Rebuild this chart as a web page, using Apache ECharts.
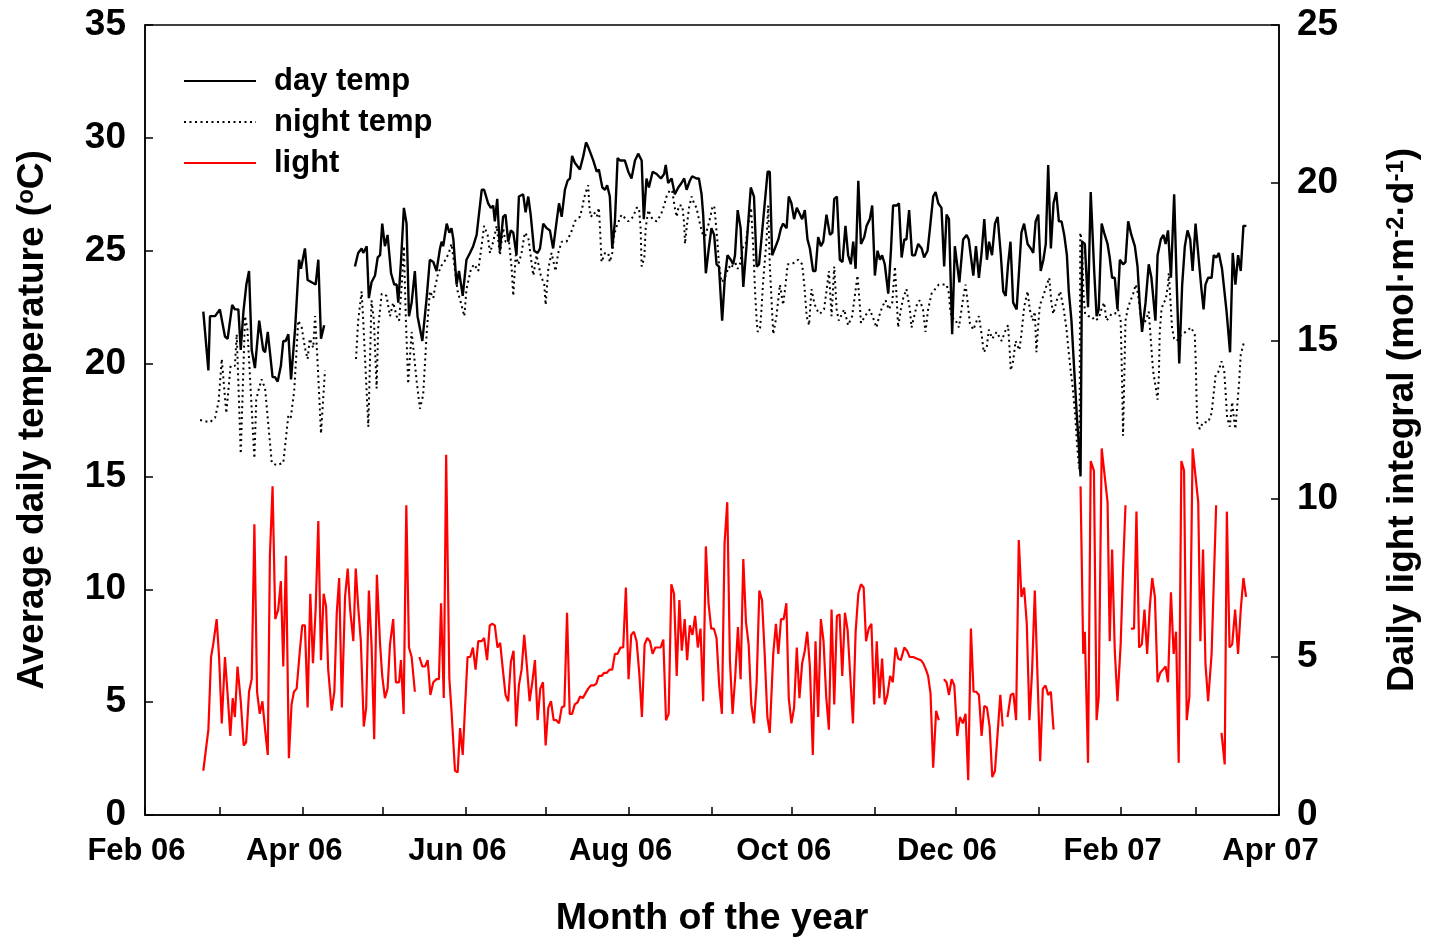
<!DOCTYPE html>
<html>
<head>
<meta charset="utf-8">
<script src="https://cdn.jsdelivr.net/npm/echarts@6/dist/echarts.min.js"></script>
<style>
  html, body { margin: 0; padding: 0; background: #fff; }
  #chart { width: 1429px; height: 943px; }
</style>
</head>
<body>
<div id="chart"></div>
<script>
// Days are counted from 1 Feb 2006.
const monthStartDays = [0, 28, 59, 89, 120, 150, 181, 212, 242, 273, 303, 334, 365, 393, 424];
const monthLabelDays = [0, 59, 120, 181, 242, 303, 365, 424];
const monthLabelTexts = ['Feb 06', 'Apr 06', 'Jun 06', 'Aug 06', 'Oct 06', 'Dec 06', 'Feb 07', 'Apr 07'];
const tempTicks = [0, 5, 10, 15, 20, 25, 30, 35];
const lightTicks = [0, 5, 10, 15, 20, 25];

// Average day temperature (°C): [day, value]; null breaks the line.
const dayTemp = [
  [21.8,22.3],[23.7,19.7],[24.3,22.1],[26.2,22.1],[28.0,22.4],[29.9,21.2],[30.9,21.1],[32.6,22.6],[33.6,22.4],[34.9,22.4],
  [35.8,20.6],[36.8,22.3],[37.9,23.5],[38.9,24.1],[39.9,20.6],[41.1,19.8],[42.7,21.9],[44.2,20.6],[44.9,20.5],[45.9,21.4],
  [47.7,19.4],[48.6,19.4],[49.6,19.2],[50.8,19.9],[51.7,21.0],[52.6,21.0],[53.6,21.3],[54.6,19.3],[56.1,21.5],[57.6,24.6],
  [58.3,24.2],[59.8,25.1],[60.8,23.7],[62.3,23.6],[63.8,23.5],[64.8,24.6],[65.8,21.1],[67.0,21.7],[72,null],
  [78.5,24.3],[79.7,24.9],[81.0,25.1],[81.6,24.9],[82.9,25.2],[83.7,22.9],[84.7,23.6],[86.0,23.9],[87.0,24.7],[87.9,24.8],
  [88.7,26.2],[89.7,25.2],[90.7,25.7],[92.0,24.0],[93.2,23.5],[94.1,23.5],[94.7,22.7],[95.7,24.5],[96.8,26.9],[97.8,26.2],
  [98.7,22.1],[99.7,22.7],[100.9,24.1],[101.9,22.1],[103.7,21.0],[105.3,22.9],[106.5,24.6],[107.8,24.5],[109.0,24.1],[110.3,25.1],
  [110.9,25.4],[111.5,25.2],[112.8,26.2],[113.8,25.8],[114.6,26.0],[115.3,25.5],[116.5,23.5],[117.4,24.1],[118.8,23.0],[120.2,24.6],
  [121.5,24.9],[122.7,25.2],[124.0,25.7],[125.9,27.7],[126.8,27.7],[128.3,27.1],[129.3,26.9],[130.2,27.0],[130.8,26.3],[131.7,27.3],
  [132.7,25.0],[133.9,26.5],[134.8,26.6],[135.8,25.4],[136.8,25.9],[137.7,25.8],[138.9,24.8],[139.8,27.4],[141.4,27.5],[142.3,26.7],
  [143.3,27.4],[144.2,26.6],[145.5,25.0],[146.8,24.9],[147.7,25.1],[148.9,26.2],[150.2,26.0],[151.4,25.9],[152.6,25.1],[153.9,26.3],
  [154.8,27.1],[155.8,26.5],[157.0,27.7],[158.0,28.1],[158.9,28.2],[159.7,29.2],[160.7,28.9],[162.6,28.6],[163.9,29.2],[164.9,29.8],
  [165.7,29.6],[167.6,29.0],[168.9,28.5],[169.7,28.6],[171.0,27.8],[172.0,27.7],[172.8,27.9],[173.8,27.4],[174.7,25.1],[175.7,26.3],
  [176.7,29.1],[177.6,29.0],[179.4,29.0],[180.7,28.5],[181.9,28.2],[183.2,29.0],[184.4,29.3],[185.7,29.0],[186.5,26.4],[187.5,28.2],
  [188.4,27.8],[189.8,28.5],[191.3,28.4],[192.9,28.2],[194.1,28.4],[194.7,28.8],[195.6,28.0],[196.9,28.2],[198.1,27.5],[199.4,27.8],
  [200.6,28.0],[201.6,28.2],[202.5,27.7],[203.7,28.1],[204.6,28.3],[206.2,28.2],[207.1,28.2],[208.1,27.5],[208.7,26.6],[209.7,24.0],
  [210.8,25.1],[211.8,26.0],[212.8,25.7],[213.7,24.4],[214.6,24.3],[215.8,21.9],[216.8,23.8],[217.8,24.8],[219.0,24.6],[219.9,24.4],
  [220.6,24.8],[221.6,26.8],[222.7,26.0],[223.7,23.4],[224.9,25.2],[226.5,27.8],[227.7,27.4],[228.7,24.3],[229.6,24.4],[231.1,26.3],
  [232.8,28.5],[233.6,28.5],[234.5,24.8],[235.5,25.1],[236.8,25.5],[237.8,26.0],[238.6,26.2],[239.9,26.0],[240.7,27.4],[241.7,27.1],
  [242.7,26.4],[243.7,26.9],[244.9,26.6],[245.7,26.4],[246.7,26.8],[247.7,25.5],[248.6,25.1],[249.8,24.1],[250.7,24.1],[251.7,25.6],
  [252.7,25.2],[253.6,25.4],[254.8,26.6],[256.1,25.7],[257.0,25.8],[257.7,27.3],[258.7,27.4],[259.8,24.6],[260.8,24.5],[261.9,26.1],
  [262.9,24.8],[263.9,24.4],[264.8,25.4],[265.7,24.2],[266.7,28.1],[267.7,25.3],[268.9,25.6],[269.8,26.1],[271.0,26.4],[271.9,27.0],
  [272.9,23.9],[273.9,25.0],[274.8,24.6],[275.6,24.8],[276.6,24.4],[277.9,23.1],[278.9,25.0],[279.7,27.0],[281.0,27.0],[281.9,27.1],
  [282.9,24.7],[283.9,25.5],[284.7,25.5],[285.7,26.8],[286.8,24.8],[287.9,24.8],[289.1,25.3],[290.4,25.1],[291.3,24.7],[292.6,25.0],
  [293.5,26.0],[294.7,27.4],[295.6,27.6],[296.6,27.1],[297.8,26.9],[298.8,24.3],[299.7,26.6],[300.6,26.4],[301.8,21.3],[302.8,25.2],
  [304.5,23.6],[305.9,25.5],[307.2,25.7],[308.0,25.5],[309.7,23.9],[310.7,25.2],[311.8,23.8],[312.8,24.9],[313.8,26.4],[314.8,24.6],
  [315.6,25.4],[316.7,24.8],[317.8,26.2],[318.8,26.5],[320.0,24.8],[320.9,23.2],[321.8,23.0],[322.7,24.4],[323.6,25.4],[324.6,22.7],
  [325.9,22.4],[327.7,25.8],[328.7,26.2],[330.0,25.3],[331.2,25.1],[332.1,24.9],[333.0,26.3],[334.0,26.6],[334.9,24.1],[335.9,24.6],
  [336.8,25.3],[337.7,28.8],[338.7,25.1],[339.7,27.1],[340.7,27.6],[341.7,26.3],[342.7,26.3],[343.7,25.7],[344.7,24.8],[345.4,23.2],
  [346.4,21.9],[347.4,19.8],[348.4,17.7],[349.2,16.3],[349.8,15.0],[350.4,25.4],[351.4,25.3],[352.6,22.5],[353.6,27.6],[354.9,24.1],
  [355.8,22.1],[356.6,22.4],[357.7,26.2],[358.6,25.8],[359.9,25.3],[360.7,24.7],[361.6,23.8],[362.6,23.8],[363.6,22.4],[364.5,24.6],
  [365.7,24.4],[366.6,24.5],[367.6,26.3],[368.8,25.7],[370.1,25.2],[371.1,24.3],[371.9,22.7],[372.8,21.4],[374.1,22.7],[375.3,24.4],
  [376.3,23.8],[377.8,21.9],[378.6,24.8],[379.8,25.5],[380.8,25.7],[381.6,25.3],[382.5,25.9],[383.6,23.8],[384.8,27.5],[385.7,23.8],
  [386.7,20.0],[387.8,23.5],[388.8,25.2],[389.8,25.9],[390.8,25.5],[391.7,24.1],[392.8,26.2],[394.0,24.6],[395.0,23.3],[395.8,22.4],
  [396.5,23.5],[397.5,23.8],[398.8,23.8],[399.6,24.8],[400.6,24.7],[401.5,24.9],[402.7,24.2],[404.4,22.3],[405.7,20.5],[406.7,24.9],
  [407.7,23.5],[408.7,24.8],[409.7,24.1],[410.7,26.1],[411.8,26.1]
];

// Average night temperature (°C): [day, value]; null breaks the line.
const nightTemp = [
  [20.6,17.5],[24.3,17.4],[26.2,17.6],[27.5,18.3],[28.7,20.2],[30.4,17.8],[32.0,19.9],[33.6,19.9],[34.3,21.3],[35.8,16.0],
  [37.4,22.1],[38.3,21.5],[40.9,15.8],[41.6,18.4],[42.4,18.8],[43.6,19.3],[44.9,18.9],[47.4,15.6],[49.2,15.5],[51.7,15.6],
  [53.6,17.7],[54.5,17.6],[55.8,18.8],[57.3,21.9],[58.6,21.6],[59.8,20.7],[60.8,20.2],[61.6,21.1],[62.9,20.7],[63.6,22.1],
  [64.6,19.9],[65.8,16.9],[67.3,19.7],[72,null],
  [78.9,20.2],[79.7,21.9],[81.0,23.2],[81.6,21.9],[83.5,17.2],[84.7,22.8],[85.6,21.9],[86.6,18.9],[87.2,21.6],[88.5,23.1],
  [90.3,23.0],[91.6,22.1],[92.8,22.7],[94.1,22.1],[95.0,21.9],[96.0,23.5],[96.8,25.2],[97.5,22.1],[98.4,19.1],[99.7,21.4],
  [101.6,19.2],[102.8,18.0],[104.0,18.6],[105.3,21.3],[106.5,23.2],[107.8,22.9],[108.3,23.3],[109.6,24.0],[111.1,24.4],[112.4,24.6],
  [113.6,24.9],[114.6,25.3],[115.5,24.5],[116.9,23.2],[118.1,22.7],[119.4,22.1],[120.2,23.3],[121.9,24.2],[123.1,24.4],[124.6,24.1],
  [125.6,25.0],[126.8,26.1],[128.1,25.7],[129.0,24.9],[130.2,25.4],[131.5,26.1],[132.7,24.8],[133.9,26.0],[134.8,25.4],[136.1,25.4],
  [137.1,24.2],[137.7,23.0],[138.6,24.8],[139.6,24.4],[140.8,24.9],[142.0,25.8],[143.3,25.6],[144.6,24.4],[145.2,23.9],[146.4,24.8],
  [148.0,23.9],[149.3,23.5],[149.8,22.6],[150.8,24.2],[152.0,24.9],[153.5,24.1],[154.5,24.9],[155.8,25.4],[157.6,25.4],[159.3,25.8],
  [160.7,26.3],[162.6,26.5],[163.5,26.9],[164.1,27.3],[165.1,27.7],[165.7,27.9],[166.1,27.0],[166.7,26.5],[167.9,26.7],[168.9,26.5],
  [169.7,26.9],[170.2,25.8],[170.7,24.5],[172.0,24.9],[173.2,24.9],[173.8,24.5],[174.7,24.9],[175.4,25.7],[176.4,26.1],[178.2,26.6],
  [180.7,26.3],[182.5,26.5],[183.8,26.9],[184.7,26.9],[185.3,26.0],[185.7,24.3],[186.7,24.7],[187.2,26.0],[188.2,26.8],[189.7,26.4],
  [191.3,26.3],[192.9,26.6],[194.1,27.0],[195.0,27.4],[196.3,27.7],[197.2,27.6],[198.1,26.9],[198.8,26.5],[199.6,27.0],[200.9,27.0],
  [201.6,26.2],[201.9,25.3],[202.5,26.0],[203.4,26.9],[204.4,27.4],[205.3,27.1],[206.2,26.9],[207.1,26.4],[207.9,26.0],[209.1,25.5],
  [210.3,26.0],[211.2,26.4],[212.1,26.9],[212.8,27.0],[213.3,26.4],[214.1,25.3],[214.6,24.4],[215.6,23.6],[216.8,23.8],[218.3,24.3],
  [219.3,24.2],[220.3,24.6],[221.6,24.2],[222.4,24.4],[223.7,25.2],[224.6,25.3],[225.6,26.2],[226.6,26.9],[227.4,25.2],[228.1,23.2],
  [228.7,21.9],[229.1,21.4],[230.0,21.6],[230.5,22.4],[231.1,23.6],[232.4,25.5],[233.0,27.0],[233.6,24.4],[234.3,22.7],[234.9,21.3],
  [236.1,22.1],[237.4,23.5],[238.6,22.6],[239.5,23.5],[240.3,24.4],[241.7,24.4],[243.2,24.5],[244.2,24.6],[245.7,24.4],[246.5,23.5],
  [247.4,22.1],[248.3,21.7],[249.2,23.3],[250.2,22.7],[251.1,22.4],[252.3,22.2],[253.9,22.4],[254.9,23.3],[255.7,24.1],[256.7,22.1],
  [257.7,24.3],[258.6,22.4],[259.4,21.9],[261.4,22.4],[262.9,21.7],[264.4,22.1],[265.4,23.0],[266.4,23.9],[267.2,22.7],[267.7,21.8],
  [269.2,22.1],[271.0,22.4],[272.3,22.0],[273.5,21.6],[274.5,22.1],[275.6,22.5],[276.9,22.8],[278.1,22.4],[279.4,22.7],[280.4,24.3],
  [281.0,23.0],[281.6,21.6],[282.6,22.4],[283.5,22.9],[284.7,23.3],[286.0,22.4],[286.6,21.6],[287.6,22.1],[288.8,22.7],[289.7,22.8],
  [290.9,22.4],[291.8,21.4],[292.8,22.4],[294.1,23.1],[296.8,23.5],[299.7,23.5],[300.6,23.1],[301.1,22.3],[301.8,22.0],[302.8,22.0],
  [304.3,21.6],[305.3,22.4],[305.9,22.9],[306.8,23.5],[307.6,22.7],[308.4,21.8],[309.7,21.5],[311.0,21.9],[311.8,22.1],[312.8,21.3],
  [313.6,20.5],[314.7,20.7],[315.5,21.5],[316.8,21.1],[318.4,21.4],[320.3,21.0],[321.5,21.4],[322.7,21.7],[323.4,20.4],[323.7,19.7],
  [324.6,20.1],[325.5,21.0],[326.9,20.6],[327.7,21.3],[328.7,22.5],[330.0,23.2],[330.8,22.4],[331.9,21.9],[332.7,22.3],[333.3,20.5],
  [333.9,21.6],[334.6,22.6],[335.9,23.0],[337.2,23.5],[338.1,23.8],[338.9,22.7],[339.6,22.2],[340.9,22.8],[342.2,23.2],[343.5,22.4],
  [344.5,21.6],[345.2,20.7],[346.0,19.8],[346.9,18.9],[347.8,17.7],[348.5,16.4],[349.0,15.7],[349.4,15.3],[349.7,25.8],[350.3,25.4],
  [350.9,23.1],[351.5,22.2],[352.7,22.1],[354.0,22.1],[355.1,21.9],[356.6,22.0],[357.6,22.4],[358.6,22.7],[359.5,21.9],[361.4,22.2],
  [362.6,22.2],[363.8,22.4],[364.8,21.9],[365.3,19.4],[365.7,16.8],[366.6,21.9],[367.4,22.4],[368.2,22.7],[369.5,23.1],[370.4,23.5],
  [371.1,23.2],[371.7,22.7],[372.3,22.1],[373.2,21.7],[374.5,22.0],[375.3,22.3],[376.9,19.7],[378.1,18.8],[378.6,18.4],[379.1,19.5],
  [379.4,21.4],[380.0,22.3],[380.7,22.7],[381.6,22.8],[382.5,23.5],[382.8,24.0],[383.6,22.4],[384.0,21.6],[384.8,21.1],[385.8,21.0],
  [387.6,21.3],[389.1,21.4],[391.1,21.6],[392.5,21.3],[392.9,20.0],[393.1,18.8],[393.4,17.4],[394.4,17.1],[395.6,17.4],[397.5,17.4],
  [398.8,17.8],[399.6,18.7],[400.3,19.5],[401.2,19.6],[402.5,20.1],[403.5,19.7],[404.0,18.8],[404.6,17.6],[405.6,17.2],[406.5,18.3],
  [407.2,17.5],[407.7,17.1],[408.5,18.3],[409.1,19.2],[409.7,20.4],[411.0,21.0]
];

// Daily light integral (mol m-2 d-1): [day, value]; null breaks the line.
const light = [
  [21.8,1.4],[23.7,2.7],[24.7,5.0],[25.5,5.4],[26.8,6.2],[27.7,5.0],[28.7,2.9],[29.9,5.0],[30.9,3.8],[31.9,2.5],
  [32.8,3.7],[33.6,3.1],[34.6,4.7],[35.8,3.6],[36.9,2.2],[37.8,2.3],[38.9,3.9],[39.9,4.3],[40.9,9.2],[41.9,3.9],
  [42.9,3.2],[43.9,3.6],[44.9,2.7],[45.9,1.9],[46.7,8.2],[47.7,10.4],[48.7,6.2],[49.8,6.5],[50.8,7.4],[51.7,4.7],
  [52.7,8.2],[53.8,1.8],[54.8,3.5],[55.7,3.9],[56.7,4.0],[57.9,5.2],[58.8,6.0],[59.8,6.0],[60.8,3.4],[61.8,7.0],
  [62.8,4.8],[63.8,6.5],[64.8,9.3],[65.8,4.9],[66.8,7.0],[67.7,6.6],[68.5,4.6],[69.8,3.3],[70.8,3.9],[71.7,6.4],
  [72.6,7.5],[73.6,3.4],[74.8,6.9],[75.8,7.8],[76.7,6.5],[77.9,5.5],[78.8,7.8],[79.7,6.6],[80.7,5.5],[81.8,2.8],
  [82.7,3.4],[83.7,7.1],[84.7,5.4],[85.7,2.4],[86.7,7.6],[87.9,5.4],[88.7,4.4],[89.7,3.7],[90.7,4.0],[91.6,5.4],
  [92.8,6.2],[93.8,4.2],[95.0,4.2],[95.7,4.9],[96.7,3.2],[97.7,9.8],[98.7,5.3],[99.7,5.0],[100.9,3.9],[101.8,null],
  [102.6,5.0],[103.7,4.7],[104.7,4.7],[105.7,4.9],[106.7,3.8],[107.8,4.2],[109.0,4.3],[109.9,4.3],[110.7,6.7],[111.7,3.7],
  [112.6,11.4],[113.8,4.3],[114.6,3.3],[115.9,1.4],[116.9,1.35],[117.8,2.75],[118.8,1.9],[119.6,3.3],[120.6,5.0],[121.6,5.0],
  [122.6,5.3],[123.6,4.6],[124.6,5.5],[125.9,5.5],[126.8,5.6],[127.9,4.9],[128.9,6.0],[129.8,6.05],[130.8,6.0],[131.8,5.3],
  [132.8,5.45],[133.8,4.6],[134.8,3.8],[135.8,3.6],[136.8,4.85],[137.8,5.2],[138.8,2.8],[139.8,4.1],[140.8,4.6],[141.8,5.7],
  [142.8,4.7],[143.8,3.6],[144.8,4.2],[145.8,4.9],[146.8,3.0],[147.8,4.0],[148.8,4.2],[149.8,2.2],[150.8,3.4],[151.8,3.6],
  [152.8,3.0],[153.8,3.0],[154.8,2.9],[155.8,3.4],[156.8,3.45],[157.8,6.4],[158.8,3.2],[159.7,3.2],[160.7,3.5],[161.7,3.56],
  [162.7,3.75],[163.7,3.7],[164.7,3.85],[165.7,4.0],[166.7,4.1],[167.7,4.1],[168.7,4.15],[169.7,4.4],[170.7,4.4],[171.7,4.5],
  [172.7,4.5],[173.7,4.6],[174.7,4.6],[175.7,5.1],[176.7,5.1],[177.8,5.3],[178.8,5.3],[179.8,7.2],[180.8,4.3],[181.8,5.7],
  [182.8,5.8],[183.8,5.5],[184.8,4.5],[185.8,3.1],[186.8,5.4],[187.8,5.6],[188.8,5.5],[189.8,5.1],[190.8,5.3],[191.8,5.3],
  [192.8,5.3],[193.8,5.55],[194.8,3.0],[195.8,3.2],[196.8,7.3],[197.8,7.0],[198.8,4.4],[199.8,6.8],[200.7,5.2],[201.8,6.2],
  [202.7,4.9],[203.7,6.0],[204.7,5.7],[205.7,6.3],[206.7,5.3],[207.7,5.9],[208.7,3.6],[209.7,8.5],[210.7,6.7],[211.7,5.9],
  [212.7,5.9],[213.7,5.6],[214.7,4.1],[215.7,3.2],[216.7,8.6],[217.7,9.9],[218.7,4.9],[219.7,3.2],[220.7,4.4],[221.7,5.95],
  [222.7,4.3],[223.7,8.1],[224.7,6.1],[225.7,5.4],[226.7,3.5],[227.7,2.9],[228.7,4.2],[229.7,7.1],[230.7,6.8],[231.7,5.1],
  [232.7,3.1],[233.6,2.6],[234.9,5.1],[235.9,6.05],[236.8,5.1],[237.8,6.2],[238.8,6.2],[239.8,6.7],[240.7,3.7],[241.7,2.9],
  [242.7,3.4],[243.7,5.3],[244.7,3.7],[245.7,4.8],[246.7,5.2],[247.6,5.8],[248.6,4.7],[249.7,1.9],[250.7,5.5],[251.7,3.1],
  [252.7,6.2],[253.7,5.5],[254.7,3.75],[255.7,2.7],[256.7,6.5],[257.7,3.5],[258.7,6.3],[259.7,6.35],[260.7,4.4],[261.7,6.4],
  [262.7,5.85],[263.7,4.4],[264.7,2.9],[265.7,5.8],[266.7,7.0],[267.7,7.3],[268.7,7.2],[269.6,5.5],[270.6,5.9],[271.6,6.05],
  [272.6,3.5],[273.6,5.5],[274.6,3.7],[275.6,4.95],[276.6,3.5],[277.6,3.8],[278.6,4.4],[279.6,4.2],[280.6,5.3],[281.6,4.95],
  [282.6,4.9],[283.9,5.3],[284.9,5.2],[285.9,5.0],[287.2,5.0],[288.5,4.95],[290.1,4.9],[291.0,4.8],[292.0,4.6],[292.8,4.4],
  [293.7,3.85],[294.7,1.5],[295.8,3.3],[296.8,3.0],[297.7,null],[298.7,4.3],[299.7,4.2],[300.6,3.8],[301.6,4.3],[302.6,4.1],
  [303.7,2.5],[304.7,3.1],[305.8,2.9],[306.8,3.2],[307.8,1.1],[308.8,5.9],[309.8,3.9],[310.8,3.9],[311.8,3.8],[312.8,2.5],
  [313.8,3.45],[314.8,3.4],[315.8,2.8],[316.8,1.2],[317.8,1.4],[318.8,2.6],[319.8,3.8],[320.7,2.8],[321.6,null],[322.5,3.1],
  [323.7,3.8],[324.7,3.85],[325.7,3.0],[326.7,8.7],[327.7,6.9],[328.7,7.2],[329.7,6.05],[330.7,3.0],[331.7,4.6],[332.7,7.1],
  [333.7,4.4],[334.7,1.7],[335.7,4.0],[336.7,4.1],[337.7,3.8],[338.7,3.9],[339.7,2.7],[344,null],[349.8,10.4],[350.8,5.1],
  [351.4,5.8],[352.6,1.65],[353.6,11.2],[354.8,10.9],[355.8,3.0],[356.6,3.75],[357.7,11.6],[359.9,9.9],[360.7,5.5],[361.6,8.4],
  [362.6,5.2],[363.6,3.6],[364.8,5.4],[365.7,7.8],[366.6,9.8],[367.6,null],[368.6,5.9],[369.8,5.9],[370.7,9.6],[371.7,5.3],
  [372.7,5.4],[373.7,6.5],[374.7,5.1],[375.7,6.6],[376.6,7.5],[377.6,6.9],[378.6,4.2],[379.6,4.5],[380.6,4.6],[381.6,4.7],
  [382.5,4.2],[383.6,7.05],[384.6,5.1],[385.5,5.8],[386.5,1.65],[387.5,11.2],[388.5,10.9],[389.5,3.0],[390.5,3.75],[391.7,11.6],
  [393.8,9.9],[394.6,5.5],[395.6,8.4],[396.5,4.8],[397.5,3.6],[398.8,5.1],[400.5,9.8],[401.5,null],[402.5,2.6],[403.7,1.6],
  [404.5,9.6],[405.5,5.3],[406.5,5.4],[407.6,6.5],[408.7,5.1],[409.7,6.5],[410.7,7.5],[411.7,6.9]
];

const FONT = '"Liberation Sans", Arial, Helvetica, sans-serif';
const chart = echarts.init(document.getElementById('chart'), null, { renderer: 'canvas' });

const labelTextByDay = {};
monthLabelDays.forEach((d, i) => { labelTextByDay[d] = monthLabelTexts[i]; });

const axisLineStyle = { color: '#000', width: 1.5 };
const supStyle = { fontFamily: FONT, fontWeight: 'bold', fontSize: 24, color: '#000', verticalAlign: 'top' };

chart.setOption({
  animation: false,
  backgroundColor: '#fff',
  grid: {
    left: 145, right: 150, top: 25, bottom: 124,
    show: true, borderColor: '#000', borderWidth: 1.5, backgroundColor: 'transparent'
  },
  legend: {
    orient: 'vertical',
    left: 178,
    top: 60,
    itemWidth: 72,
    itemHeight: 14,
    itemGap: 9,
    selectedMode: false,
    // line-only keys: the marker drawn on each key is made fully transparent
    itemStyle: { color: 'rgba(0,0,0,0)', borderColor: 'rgba(0,0,0,0)', borderWidth: 0, opacity: 0 },
    textStyle: { fontFamily: FONT, fontWeight: 'bold', fontSize: 31, color: '#000', lineHeight: 32, padding: [0, 0, 0, 13] },
    data: ['day temp', 'night temp', 'light']
  },
  xAxis: {
    type: 'value',
    min: 0,
    max: 424,
    name: 'Month of the year',
    nameLocation: 'middle',
    nameGap: 85,
    nameTextStyle: { fontFamily: FONT, fontWeight: 'bold', fontSize: 37.5, color: '#000' },
    axisLine: { lineStyle: axisLineStyle },
    axisTick: { inside: true, length: 8, lineStyle: axisLineStyle, customValues: monthStartDays },
    axisLabel: {
      customValues: monthLabelDays,
      showMinLabel: true, showMaxLabel: true,
      margin: 21,
      padding: [0, 17, 0, 0],
      fontFamily: FONT, fontWeight: 'bold', fontSize: 31, color: '#000',
      formatter: v => labelTextByDay[Math.round(v)] || ''
    },
    splitLine: { show: false }
  },
  yAxis: [
    {
      type: 'value',
      min: 0, max: 35, interval: 5,
      position: 'left',
      name: 'Average daily temperature ({sup|o}C)',
      nameLocation: 'middle',
      nameRotate: 90,
      nameGap: 94,
      nameTextStyle: { fontFamily: FONT, fontWeight: 'bold', fontSize: 37, color: '#000', rich: { sup: supStyle } },
      axisLine: { show: true, lineStyle: axisLineStyle },
      axisTick: { show: true, inside: true, length: 8, lineStyle: axisLineStyle, customValues: tempTicks },
      axisLabel: { margin: 19, fontFamily: FONT, fontWeight: 'bold', fontSize: 37, color: '#000', customValues: tempTicks },
      splitLine: { show: false }
    },
    {
      type: 'value',
      min: 0, max: 25, interval: 5,
      position: 'right',
      name: 'Daily light integral (mol·m{sup|-2}·d{sup|-1})',
      nameLocation: 'middle',
      nameRotate: 90,
      nameGap: 105,
      nameTextStyle: { fontFamily: FONT, fontWeight: 'bold', fontSize: 37, color: '#000', rich: { sup: supStyle } },
      axisLine: { show: true, lineStyle: axisLineStyle },
      axisTick: { show: true, inside: true, length: 8, lineStyle: axisLineStyle, customValues: lightTicks },
      axisLabel: { margin: 18, fontFamily: FONT, fontWeight: 'bold', fontSize: 37, color: '#000', customValues: lightTicks },
      splitLine: { show: false }
    }
  ],
  series: [
    {
      name: 'day temp', type: 'line', yAxisIndex: 0, data: dayTemp,
      showSymbol: false, symbol: 'none', connectNulls: false,
      color: '#000',
      lineStyle: { color: '#000', width: 2.4 }
    },
    {
      name: 'night temp', type: 'line', yAxisIndex: 0, data: nightTemp,
      showSymbol: false, symbol: 'none', connectNulls: false,
      color: '#000',
      lineStyle: { color: '#000', width: 2, type: [2, 3.5] }
    },
    {
      name: 'light', type: 'line', yAxisIndex: 1, data: light,
      showSymbol: false, symbol: 'none', connectNulls: false,
      color: '#ff0000',
      lineStyle: { color: '#ff0000', width: 2.2 }
    }
  ]
});
</script>
</body>
</html>
